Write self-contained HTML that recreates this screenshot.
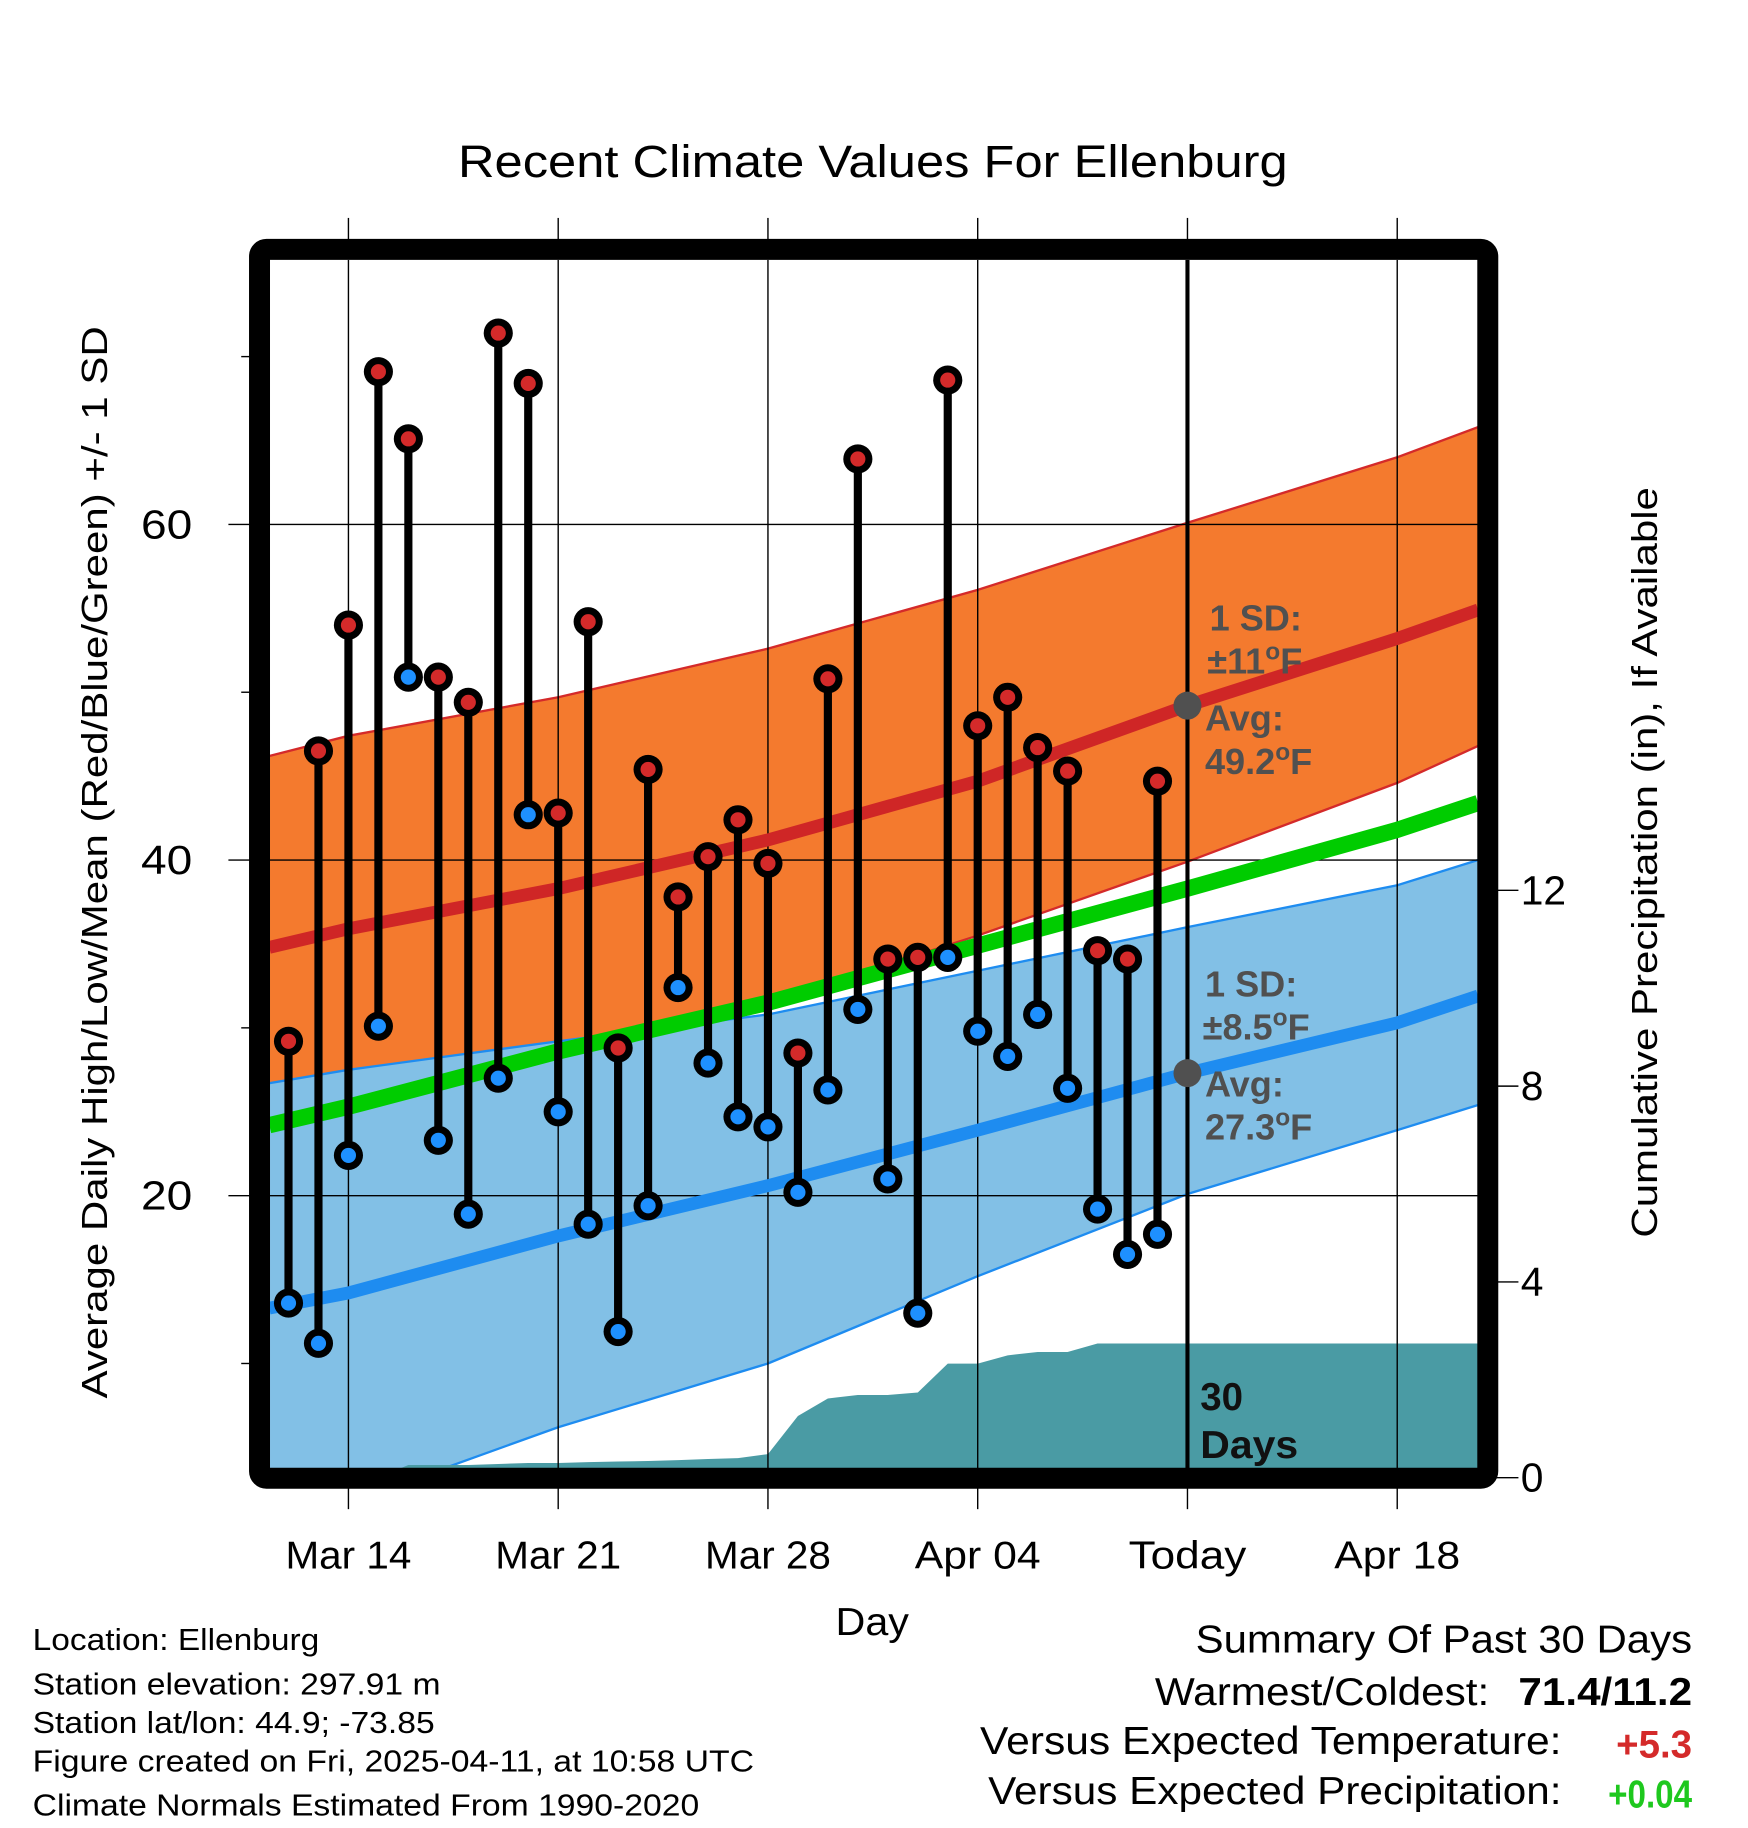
<!DOCTYPE html>
<html><head><meta charset="utf-8"><style>
html,body{margin:0;padding:0;background:#fff;}
svg{display:block;font-family:"Liberation Sans",sans-serif;}
</style></head><body>
<svg id="chart" width="1748" height="1828" viewBox="0 0 1500 1568.6" preserveAspectRatio="none" xmlns="http://www.w3.org/2000/svg">
<defs><clipPath id="plotClip"><rect x="231.7" y="223" width="1036.3" height="1037"/></clipPath></defs>
<g id="plot" clip-path="url(#plotClip)"></g>
<g id="over"></g>
<text x="393" y="152" font-size="39" textLength="712" lengthAdjust="spacingAndGlyphs">Recent Climate Values For Ellenburg</text>
<text transform="translate(92,1200) rotate(-90)" font-size="31" textLength="920" lengthAdjust="spacingAndGlyphs">Average Daily High/Low/Mean (Red/Blue/Green) +/- 1 SD</text>
<text transform="translate(1422,1062) rotate(-90)" font-size="31" textLength="644" lengthAdjust="spacingAndGlyphs">Cumulative Precipitation (in), If Available</text>
<text x="717" y="1403" font-size="33" textLength="63" lengthAdjust="spacingAndGlyphs">Day</text>
<g font-size="26">
<text x="28" y="1416" textLength="246" lengthAdjust="spacingAndGlyphs">Location: Ellenburg</text>
<text x="28" y="1454" textLength="350" lengthAdjust="spacingAndGlyphs">Station elevation: 297.91 m</text>
<text x="28" y="1487" textLength="345" lengthAdjust="spacingAndGlyphs">Station lat/lon: 44.9; -73.85</text>
<text x="28" y="1520" textLength="619" lengthAdjust="spacingAndGlyphs">Figure created on Fri, 2025-04-11, at 10:58 UTC</text>
<text x="28" y="1558" textLength="572" lengthAdjust="spacingAndGlyphs">Climate Normals Estimated From 1990-2020</text>
</g>
<g font-size="33">
<text x="1026" y="1418" textLength="426" lengthAdjust="spacingAndGlyphs">Summary Of Past 30 Days</text>
<text x="991" y="1463" textLength="287" lengthAdjust="spacingAndGlyphs">Warmest/Coldest:</text>
<text x="1303" y="1463" font-weight="bold" textLength="149" lengthAdjust="spacingAndGlyphs">71.4/11.2</text>
<text x="841" y="1505" textLength="499" lengthAdjust="spacingAndGlyphs">Versus Expected Temperature:</text>
<text x="1452" y="1508" text-anchor="end" font-weight="bold" fill="#d42a2a">+5.3</text>
<text x="848" y="1548" textLength="492" lengthAdjust="spacingAndGlyphs">Versus Expected Precipitation:</text>
<text x="1380" y="1551" font-weight="bold" fill="#1ec81e" textLength="72" lengthAdjust="spacingAndGlyphs">+0.04</text>
</g>
</svg>
<script>
const highs=[29.2,46.5,54.0,69.1,65.1,50.9,49.4,71.4,68.4,42.8,54.2,28.8,45.4,37.8,40.2,42.4,39.8,28.5,50.8,63.9,34.1,34.2,68.6,48.0,49.7,46.7,45.3,34.6,34.1,44.7];
const lows=[13.6,11.2,22.4,30.1,50.9,23.3,18.9,27.0,42.7,25.0,18.3,11.9,19.4,32.4,27.9,24.7,24.1,20.2,26.3,31.1,21.0,13.0,34.2,29.8,28.3,30.8,26.4,19.2,16.5,17.7];
const precip=[0,0,0,0,0.26,0.26,0.26,0.28,0.3,0.3,0.32,0.33,0.34,0.36,0.38,0.4,0.48,1.26,1.62,1.69,1.69,1.74,2.33,2.33,2.5,2.57,2.57,2.74,2.74,2.74];
const normDays=[-2.64,0,7,14,21,28,35,37.7];
const normHigh=[34.8,35.9,38.3,41.2,44.7,49.2,53.2,54.9];
const normHighUp=[46.2,47.4,49.7,52.6,56.1,60.1,64.0,65.8];
const normHighLo=[26.0,27.0,28.9,31.5,35.5,39.9,44.6,46.8];
const normMean=[24.2,25.3,28.6,31.5,34.9,38.3,41.8,43.4];
const normLow=[13.3,14.2,17.6,20.6,23.9,27.3,30.3,31.9];
const normLowUp=[26.7,27.5,29.2,30.8,33.4,36.0,38.5,40.0];
const normLowLo=[-0.5,1.7,6.2,10.0,15.2,20.1,23.9,25.4];
const xTickDays=[0,7,14,21,28,35];
const xTickLabels=["Mar 14","Mar 21","Mar 28","Apr 04","Today","Apr 18"];
const yTicks=[20,40,60];
const yMinor=[10,30,50,70];
const pTicks=[0,4,8,12];
const firstDay=-2;
const X=d=>299+25.714*d, Y=t=>1314-14.4*t, P=v=>1268-42*v;
const NS="http://www.w3.org/2000/svg";
const plot=document.getElementById('plot'), over=document.getElementById('over');
function mk(tag,attrs,parent){const e=document.createElementNS(NS,tag);for(const k in attrs)e.setAttribute(k,attrs[k]);parent.appendChild(e);return e;}
const linePts=arr=>normDays.map((d,i)=>X(d).toFixed(1)+','+Y(arr[i]).toFixed(1));
function band(up,lo,fill,stroke,name){
  const pts=linePts(up).concat(linePts(lo).reverse());
  const e=mk('polygon',{points:pts.join(' '),fill:fill},plot);
  
  
  [up,lo].forEach(a=>{const l=mk('polyline',{points:linePts(a).join(' '),fill:'none',stroke:stroke,'stroke-width':2},plot);
  
  });
}
band(normHighUp,normHighLo,'#f47a2e','#d42a2a','high-sd-band');
band(normLowUp,normLowLo,'#82c0e6','#1e8cf0','low-sd-band');
let pp=[X(firstDay)+','+P(0)];
precip.forEach((v,i)=>pp.push(X(firstDay+i).toFixed(1)+','+P(v).toFixed(1)));
pp.push('1270,'+P(precip[precip.length-1]).toFixed(1));pp.push('1270,'+P(0));
const pa=mk('polygon',{points:pp.join(' '),fill:'#4a9ba4'},plot);


xTickDays.forEach(d=>{const g=mk('line',{x1:X(d),x2:X(d),y1:223,y2:1260,stroke:'#000','stroke-width':1.2},plot);

});
yTicks.forEach(t=>{const g=mk('line',{x1:231,x2:1268,y1:Y(t),y2:Y(t),stroke:'#000','stroke-width':1.2},plot);

});
[[normMean,'#00cc00',14,'mean-normal-line'],[normHigh,'#cf2626',11,'high-normal-line'],[normLow,'#1e8cf0',11,'low-normal-line']].forEach(([a,c,w,n])=>{
  const l=mk('polyline',{points:linePts(a).join(' '),fill:'none',stroke:c,'stroke-width':w},plot);
  
  
});
const tl=mk('line',{x1:X(28),x2:X(28),y1:223,y2:1262,stroke:'#000','stroke-width':3.5},plot);


const ag=mk('g',{fill:'#505050','font-weight':'bold','font-size':31},plot);


mk('circle',{cx:X(28),cy:Y(normHigh[5]),r:12,fill:'#505050'},ag);
mk('circle',{cx:X(28),cy:Y(normLow[5]),r:12,fill:'#505050'},ag);
function txt(x,y,html,parent,extra){const t=mk('text',Object.assign({x:x,y:y},extra||{}),parent);t.innerHTML=html;return t;}
const deg='<tspan font-size="21" dy="-12">o</tspan><tspan dy="12">F</tspan>';
txt(1038,541,'1 SD:',ag);txt(1036,578,'±11'+deg,ag);
txt(1034,627,'Avg:',ag);txt(1034,664,'49.2'+deg,ag);
txt(1034,855,'1 SD:',ag);txt(1032,892,'±8.5'+deg,ag);
txt(1034,941,'Avg:',ag);txt(1034,978,'27.3'+deg,ag);
const dl=mk('g',{fill:'#111','font-weight':'bold','font-size':33},plot);


txt(1030,1210,'30',dl);txt(1030,1251,'Days',dl,{textLength:84,lengthAdjust:'spacingAndGlyphs'});
highs.forEach((h,i)=>{
  const x=X(firstDay+i),lo=lows[i];
  const s=mk('line',{x1:x,x2:x,y1:Y(h),y2:Y(lo),stroke:'#000','stroke-width':7},plot);
  
  
  [[h,'#d42a2a','high-marker'],[lo,'#1e90ff','low-marker']].forEach(([v,c,n])=>{
    const o=mk('circle',{cx:x,cy:Y(v),r:12.5,fill:'#000'},plot);
    
    
    mk('circle',{cx:x,cy:Y(v),r:6.5,fill:c},plot);
  });
});
const fr=mk('rect',{x:222.7,y:214,width:1054,height:1054.5,rx:6,fill:'none',stroke:'#000','stroke-width':18},over);


xTickDays.forEach((d,i)=>{
  mk('line',{x1:X(d),x2:X(d),y1:187,y2:206,stroke:'#000','stroke-width':1.2},over);
  mk('line',{x1:X(d),x2:X(d),y1:1276,y2:1295,stroke:'#000','stroke-width':1.2},over);
  const w=xTickLabels[i]==='Today'?101:108;
  const t=txt(X(d)-w/2,1346,xTickLabels[i],over,{'font-size':33,textLength:w,lengthAdjust:'spacingAndGlyphs'});
  
  
});
yTicks.forEach(v=>{
  mk('line',{x1:196,x2:215,y1:Y(v),y2:Y(v),stroke:'#000','stroke-width':1.2},over);
  const t=txt(121,Y(v)+12,String(v),over,{'font-size':35,textLength:44,lengthAdjust:'spacingAndGlyphs'});
  
  
});
yMinor.forEach(v=>{mk('line',{x1:207,x2:215,y1:Y(v),y2:Y(v),stroke:'#000','stroke-width':1.2},over);});
pTicks.forEach(v=>{
  mk('line',{x1:1284,x2:1303,y1:P(v),y2:P(v),stroke:'#000','stroke-width':1.2},over);
  const t=txt(1305,P(v)+12,String(v),over,{'font-size':35});
  
  
});
</script>
</body></html>
